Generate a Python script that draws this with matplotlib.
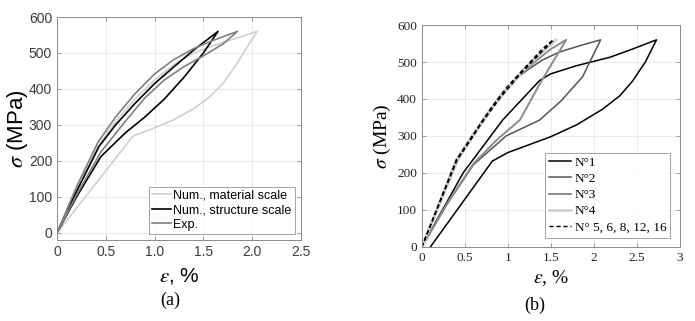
import matplotlib
matplotlib.use("Agg")
import matplotlib.pyplot as plt

plt.rcParams["mathtext.fontset"] = "stix"

# ---- panel (a): material vs structure scale vs experiment ----
MAT_X = [0, 0.78, 1.0, 1.2, 1.4, 1.57, 1.7, 1.8, 1.9, 2.05,
         1.8, 1.6, 1.4, 1.2, 1.0, 0.8, 0.6, 0.42, 0.2, 0]
MAT_Y = [0, 269, 292, 315, 345, 379, 415, 453, 495, 560,
         538, 520, 500, 468, 425, 372, 310, 240, 118, 0]

STR_X = [0, 0.2, 0.43, 0.6, 0.8, 1.0, 1.2, 1.4, 1.65,
         1.5, 1.3, 1.1, 0.9, 0.7, 0.45, 0.2, 0]
STR_Y = [0, 115, 240, 300, 360, 415, 462, 508, 560,
         500, 432, 372, 322, 278, 212, 100, 0]

EXP_X = [0, 0.2, 0.42, 0.6, 0.8, 1.0, 1.2, 1.4, 1.6, 1.85,
         1.7, 1.5, 1.3, 1.1, 0.9, 0.7, 0.45, 0.2, 0]
EXP_Y = [0, 128, 252, 322, 387, 442, 482, 512, 535, 560,
         525, 492, 462, 425, 375, 310, 225, 105, 0]

LEGEND_A = ["Num., material scale", "Num., structure scale", "Exp."]

# ---- panel (b): samples N°1 .. N°16 ----
N1_X = [0.1, 0.82, 1.0, 1.5, 1.8, 2.1, 2.3, 2.45, 2.6, 2.73,
        2.45, 2.19, 1.8, 1.5, 1.37, 0.94, 0.48, 0]
N1_Y = [0, 232, 255, 298, 330, 372, 408, 448, 500, 560,
        535, 513, 490, 468, 450, 343, 200, 0]

N2_X = [0, 0.3, 0.6, 0.98, 1.37, 1.62, 1.87, 2.08,
        1.85, 1.6, 1.4, 1.25, 1.1, 0.9, 0.7, 0.5, 0.4, 0]
N2_Y = [0, 118, 222, 300, 343, 395, 460, 560,
        545, 527, 505, 482, 456, 405, 340, 270, 235, 0]

N3_X = [0, 0.3, 0.6, 0.87, 1.14, 1.37, 1.49, 1.68,
        1.5, 1.35, 1.2, 1.1, 0.9, 0.7, 0.5, 0.4, 0]
N3_Y = [0, 120, 225, 289, 343, 440, 487, 560,
        535, 507, 478, 458, 405, 340, 270, 235, 0]

N4_X = [0, 0.4, 0.5, 0.7, 0.9, 1.1, 1.3, 1.56,
        1.4, 1.2, 1.0, 0.8, 0.6, 0.42, 0]
N4_Y = [0, 235, 268, 338, 403, 458, 508, 560,
        528, 480, 428, 370, 300, 235, 0]

N5_X = [0, 0.4, 0.5, 0.6, 0.7, 0.8, 0.9, 1.0, 1.1, 1.2, 1.3, 1.4, 1.53,
        1.45, 1.3, 1.1, 0.9, 0.7, 0.5, 0.41, 0]
N5_Y = [0, 235, 270, 305, 340, 374, 405, 435, 460, 485, 510, 535, 560,
        540, 505, 455, 400, 336, 266, 235, 0]

LEGEND_B = ["N°1", "N°2", "N°3", "N°4", "N° 5, 6, 8, 12, 16"]

fig = plt.figure(figsize=(6.95, 3.21), dpi=100)
fig.patch.set_facecolor("white")


def style_axes(ax, edge):
    ax.grid(True, color="#e6e6e6", linewidth=0.6)
    ax.set_axisbelow(True)
    for s in ax.spines.values():
        s.set_color(edge)
        s.set_linewidth(0.7)
    ax.tick_params(direction="in", length=3, width=0.6, color=edge,
                   top=True, right=True)


# (a)
ax1 = fig.add_axes([0.082, 0.252, 0.351, 0.695])
ax1.plot(MAT_X, MAT_Y, color="#d0d0d0", lw=1.2, label=LEGEND_A[0])
ax1.plot(STR_X, STR_Y, color="black", lw=1.2, label=LEGEND_A[1])
ax1.plot(EXP_X, EXP_Y, color="#808080", lw=1.2, label=LEGEND_A[2])
ax1.set_xlim(0, 2.5)
ax1.set_ylim(-20, 600)
ax1.set_xticks([0, 0.5, 1.0, 1.5, 2.0, 2.5])
ax1.set_xticklabels(["0", "0.5", "1.0", "1.5", "2.0", "2.5"])
ax1.set_yticks(range(0, 601, 100))
style_axes(ax1, "#8c8c8c")
for lab in ax1.get_xticklabels() + ax1.get_yticklabels():
    lab.set_fontfamily("Liberation Sans")
    lab.set_fontsize(10)
    lab.set_color("#3c3c3c")
ax1.set_xlabel(r"$\epsilon$, %", fontsize=15, family="Liberation Sans",
               labelpad=5)
ax1.set_ylabel(r"$\sigma$ (MPa)", fontsize=16, family="Liberation Sans",
               labelpad=-1)
leg1 = ax1.legend(loc="lower right", frameon=True, fancybox=False,
                  handlelength=1.5, handletextpad=0.2, borderpad=0.25,
                  labelspacing=0.2, borderaxespad=0.5,
                  prop={"family": "Liberation Sans", "size": 9})
leg1.get_frame().set_edgecolor("#8c8c8c")
leg1.get_frame().set_linewidth(0.7)
fig.text(0.245, 0.065, "(a)", fontsize=13, family="Liberation Serif",
         ha="center", va="center")

# (b)
ax2 = fig.add_axes([0.607, 0.231, 0.371, 0.691])
ax2.plot(N1_X, N1_Y, color="black", lw=1.1, label=LEGEND_B[0])
ax2.plot(N2_X, N2_Y, color="#555555", lw=1.1, label=LEGEND_B[1])
ax2.plot(N3_X, N3_Y, color="#8c8c8c", lw=1.4, label=LEGEND_B[2])
ax2.plot(N4_X, N4_Y, color="#cccccc", lw=1.8, label=LEGEND_B[3])
ax2.plot(N5_X, N5_Y, color="black", lw=1.0, ls=(0, (3, 2)), label=LEGEND_B[4])
ax2.set_xlim(0, 3)
ax2.set_ylim(0, 600)
ax2.set_xticks([0, 0.5, 1, 1.5, 2, 2.5, 3])
ax2.set_xticklabels(["0", "0.5", "1", "1.5", "2", "2.5", "3"])
ax2.set_yticks(range(0, 601, 100))
style_axes(ax2, "#8c8c8c")
for lab in ax2.get_xticklabels() + ax2.get_yticklabels():
    lab.set_fontfamily("Liberation Serif")
    lab.set_fontsize(9.5)
    lab.set_color("#262626")
ax2.set_xlabel(r"$\epsilon$, %", fontsize=14, family="Liberation Serif",
               labelpad=3)
ax2.set_ylabel(r"$\sigma$ (MPa)", fontsize=14, family="Liberation Serif",
               labelpad=3)
leg2 = ax2.legend(loc="lower right", frameon=True, fancybox=False,
                  handlelength=1.7, handletextpad=0.3, borderpad=0.3,
                  labelspacing=0.3, borderaxespad=0.7,
                  prop={"family": "Liberation Serif", "size": 9.5})
leg2.get_frame().set_edgecolor("#8c8c8c")
leg2.get_frame().set_linewidth(0.7)
fig.text(0.770, 0.05, "(b)", fontsize=13, family="Liberation Serif",
         ha="center", va="center")

fig.savefig("out.png", dpi=100, facecolor="white")
